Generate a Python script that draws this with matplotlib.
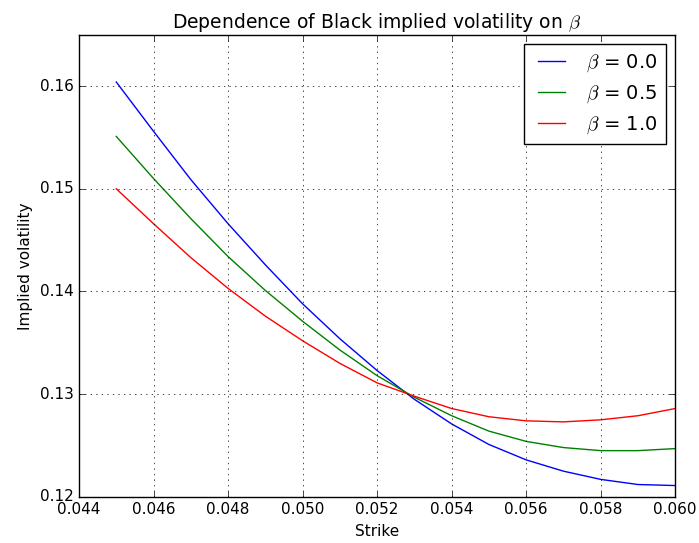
import matplotlib
matplotlib.use("Agg")
import matplotlib.pyplot as plt

plt.style.use('classic')

strike = [0.045, 0.046, 0.047, 0.048, 0.049, 0.050, 0.051, 0.052,
          0.053, 0.054, 0.055, 0.056, 0.057, 0.058, 0.059, 0.060]
vol_b0 = [0.1604, 0.1556, 0.1509, 0.1466, 0.1426, 0.1388, 0.1354, 0.1323,
          0.1295, 0.1271, 0.1251, 0.1236, 0.1225, 0.1217, 0.1212, 0.1211]
vol_b05 = [0.1551, 0.1510, 0.1471, 0.1434, 0.1401, 0.1371, 0.1343, 0.1318,
           0.1297, 0.1279, 0.1264, 0.1254, 0.1248, 0.1245, 0.1245, 0.1247]
vol_b1 = [0.1500, 0.1466, 0.1433, 0.1403, 0.1376, 0.1352, 0.1330, 0.1311,
          0.1298, 0.1286, 0.1278, 0.1274, 0.1273, 0.1275, 0.1279, 0.1286]
labels = [r'$\beta$ = 0.0', r'$\beta$ = 0.5', r'$\beta$ = 1.0']

fig = plt.figure(figsize=(6.99, 5.43), dpi=100)
ax = fig.add_axes([0.113, 0.085, 0.853, 0.851])
ax.plot(strike, vol_b0, color='b', label=labels[0])
ax.plot(strike, vol_b05, color='g', label=labels[1])
ax.plot(strike, vol_b1, color='r', label=labels[2])
ax.set_xlim(0.044, 0.060)
ax.set_ylim(0.12, 0.165)
ax.set_xticks([0.044, 0.046, 0.048, 0.050, 0.052, 0.054, 0.056, 0.058, 0.060])
ax.set_yticks([0.12, 0.13, 0.14, 0.15, 0.16])
ax.tick_params(labelsize=11)
ax.grid(True)
ax.set_xlabel('Strike', fontsize=11)
ax.set_ylabel('Implied volatility', fontsize=11)
ax.set_title(r'Dependence of Black implied volatility on $\beta$', fontsize=13.5)
ax.legend(loc='upper right', fontsize=14)
fig.savefig('out.png', dpi=100)
